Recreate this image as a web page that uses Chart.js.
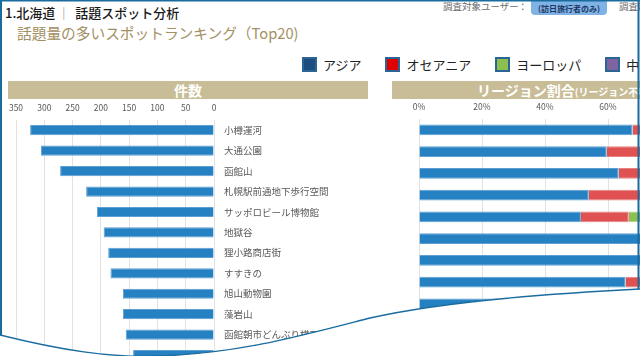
<!DOCTYPE html>
<html><head><meta charset="utf-8">
<script src="https://cdn.jsdelivr.net/npm/chart.js@4.4.1/dist/chart.umd.min.js"></script>
<style>
html,body{margin:0;padding:0;width:640px;height:356px;overflow:hidden;background:#fff;font-family:'Noto Sans CJK JP','Noto Sans',sans-serif;}
#page{position:relative;width:640px;height:356px;overflow:hidden;}
.abs{position:absolute;white-space:nowrap;}
#title{left:5px;top:3px;font-size:13px;line-height:20px;color:#1a1a1a;font-weight:500;}
#title .sep{color:#8a8a8a;font-weight:400;margin:0 5px 0 2px;}
#sub{left:17px;top:23px;font-size:14.7px;line-height:20px;color:#a39063;}
#userlbl{left:443px;top:-1px;font-size:9.5px;line-height:14px;color:#6b6b6b;}
#usercolon{left:518px;top:-1px;font-size:9.5px;line-height:14px;color:#6b6b6b;}
#userbox{left:531px;top:-9px;width:76px;height:24px;border-radius:4px;background:#7fb3e6;color:#1f3864;font-size:8px;font-weight:700;line-height:12px;text-align:center;}
#survey{left:619px;top:-1px;font-size:9.5px;line-height:14px;color:#6b6b6b;}
#legend{left:302px;top:57px;display:flex;align-items:center;}
.li{display:flex;align-items:center;margin-right:24px;}
.sw{width:11px;height:11px;border:2px solid #2b6595;margin-right:6px;}
.lt{font-size:13px;line-height:14px;color:#222;}
.band{background:#c8bd97;color:#fff;font-weight:700;height:18px;top:81px;}
#band1{left:8px;width:360px;}
#band1 span{position:absolute;left:166px;top:0;font-size:14px;line-height:18px;}
#band2{left:392px;width:260px;}
#band2 span{position:absolute;left:85px;top:0;font-size:14px;line-height:18px;}
#band2 small{font-size:10px;font-weight:700;}
#wrapCount{left:8px;top:98px;width:360px;height:283px;}
#wrapRegion{left:392px;top:97px;width:360px;height:283px;}
#overlay{left:0;top:0;}
</style></head>
<body>
<div id="page">
  <div class="abs" id="title">1.北海道<span class="sep">｜</span>話題スポット分析</div>
  <div class="abs" id="sub">話題量の多いスポットランキング（Top20)</div>
  <div class="abs" id="userlbl">調査対象ユーザー</div>
  <div class="abs" id="usercolon">：</div>
  <div class="abs" id="userbox">訪日旅行者<br>(訪日旅行者のみ)</div>
  <div class="abs" id="survey">調査期間</div>
  <div class="abs" id="legend"></div>
  <div class="abs band" id="band1"><span>件数</span></div>
  <div class="abs band" id="band2"><span>リージョン割合<small>(リージョン不明含む)</small></span></div>
  <div class="abs" id="wrapCount"><canvas id="cCount" width="360" height="283"></canvas></div>
  <div class="abs" id="wrapRegion"><canvas id="cRegion" width="360" height="283"></canvas></div>
  <svg class="abs" id="overlay" width="640" height="356" viewBox="0 0 640 356">
    <line x1="0" y1="0.8" x2="640" y2="0.8" stroke="#1a6b9e" stroke-width="1.6"/>
    <line x1="1" y1="0" x2="1" y2="340" stroke="#1a6b9e" stroke-width="2"/>
    <line x1="638.5" y1="0" x2="638.5" y2="292" stroke="#1a6b9e" stroke-width="2"/>
    <path d="M0,335 C60,350 110,358 160,356 C240,353 300,336 370,318 C450,300 560,293 640,289 L640,360 L0,360 Z" fill="#fff"/>
    <path d="M0,335 C60,350 110,358 160,356 C240,353 300,336 370,318 C450,300 560,293 640,289" fill="none" stroke="#1a6b9e" stroke-width="1.4"/>
  </svg>
</div>
<script>
// ---- data ----
const spots = ['小樽運河','大通公園','函館山','札幌駅前通地下歩行空間','サッポロビール博物館','地獄谷','狸小路商店街','すすきの','旭山動物園','藻岩山','函館朝市どんぶり横丁市場','二条市場'];
const counts = [325, 306, 272, 226, 207, 195, 187, 183, 161, 161, 156, 143];
const countTicks = [0, 50, 100, 150, 200, 250, 300, 350];
const regionNames = ['アジア','オセアニア','ヨーロッパ','中東'];
const asia       = [67.8, 59.6, 63.4, 53.9, 51.4, 78, 80, 65.6, 82, 75, 80, 78];
const oceania    = [9, 14, 10, 20, 15.2, 8, 7, 12, 6, 9, 7, 8];
const europe     = [16, 18, 19, 18, 24, 10, 9, 15, 8, 11, 9, 10];
const middleEast = [7.2, 8.4, 7.6, 8.1, 9.4, 4, 4, 7.4, 4, 5, 4, 4];
const percentTicks = [0, 20, 40, 60, 80, 100];

const barColors = ['#2681c3','#e05252','#8dbf54','#8064a2'];
const barEdges  = ['#5e9fd3','#e98080','#aad083','#9d86b8'];
const legendColors = ['#1c4f80','#e00000','#8cbf50','#8064a2'];
const regionSeries = [asia, oceania, europe, middleEast];

Chart.defaults.font.family = "'Noto Sans CJK JP','Noto Sans',sans-serif";

// legend
const lg = document.getElementById('legend');
regionNames.forEach((n,i)=>{
  const it = document.createElement('div'); it.className='li';
  const sw = document.createElement('div'); sw.className='sw'; sw.style.background=legendColors[i];
  const t = document.createElement('div'); t.className='lt'; t.textContent=n;
  it.appendChild(sw); it.appendChild(t); lg.appendChild(it);
});

const gridColor = '#e2e2e2';
const tickColor = '#595959';

new Chart(document.getElementById('cCount'), {
  type:'bar',
  data:{labels:spots, datasets:[{data:counts, backgroundColor:barColors[0], borderColor:barEdges[0], borderWidth:1, barPercentage:0.5, categoryPercentage:1}]},
  options:{
    indexAxis:'y', responsive:false, animation:false,
    layout:{padding:{left:8,right:0,top:0,bottom:0}},
    plugins:{legend:{display:false}, tooltip:{enabled:false}},
    scales:{
      x:{position:'top', reverse:true, min:countTicks[0], max:countTicks[countTicks.length-1],
         afterBuildTicks(s){ s.ticks = countTicks.map(v=>({value:v})); },
         ticks:{color:tickColor, font:{size:8.5}, padding:7, maxRotation:0, autoSkip:false},
         grid:{color:gridColor, drawTicks:false}, border:{display:false},
         afterFit(s){ s.height = 22; }},
      y:{position:'right', grid:{display:false, drawTicks:false}, border:{display:false},
         ticks:{color:tickColor, font:{size:9.5}, padding:10, autoSkip:false},
         afterFit(s){ s.width = 154; }}
    }
  }
});

new Chart(document.getElementById('cRegion'), {
  type:'bar',
  data:{labels:spots, datasets:regionNames.map((n,i)=>({label:n, data:regionSeries[i], backgroundColor:barColors[i], borderColor:barEdges[i], borderWidth:1, barPercentage:0.5, categoryPercentage:1}))},
  options:{
    indexAxis:'y', responsive:false, animation:false,
    layout:{padding:{left:27,right:16,top:0,bottom:0}},
    plugins:{legend:{display:false}, tooltip:{enabled:false}},
    scales:{
      x:{position:'top', stacked:true, min:0, max:100,
         afterBuildTicks(s){ s.ticks = percentTicks.map(v=>({value:v})); },
         ticks:{color:tickColor, font:{size:8.5}, padding:7, maxRotation:0, autoSkip:false, callback:v=>v+'%'},
         grid:{color:gridColor, drawTicks:false}, border:{display:false},
         afterFit(s){ s.height = 22; }},
      y:{stacked:true, display:false}
    }
  }
});
</script>
</body></html>
